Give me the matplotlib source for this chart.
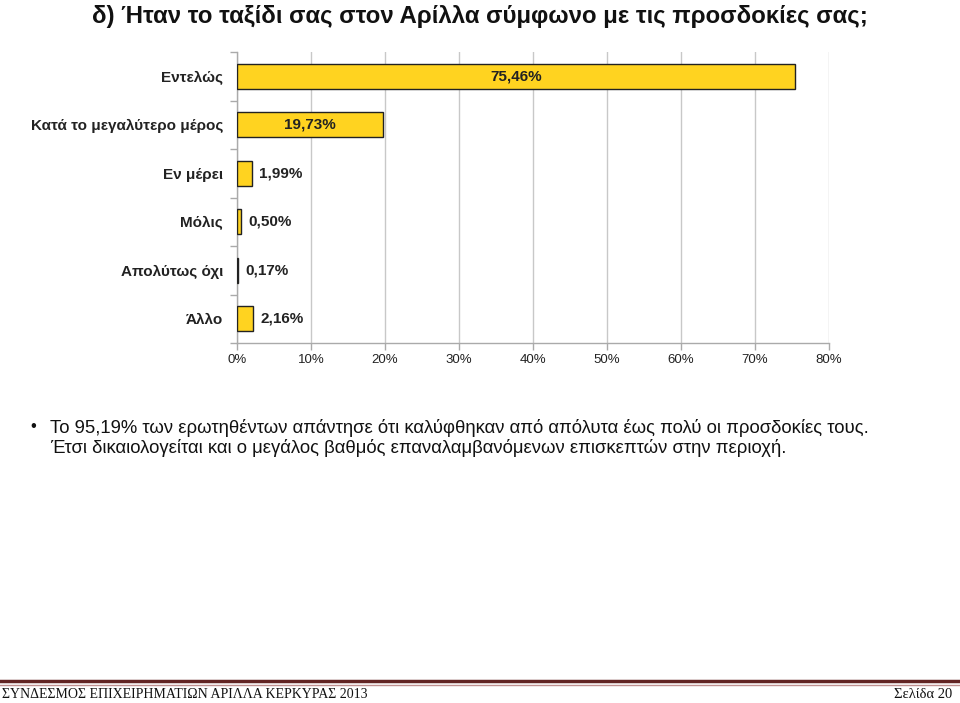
import numpy as np
import matplotlib
matplotlib.use('Agg')
from matplotlib import pyplot as plt
from matplotlib.lines import Line2D

categories = ["Εντελώς", "Κατά το μεγαλύτερο μέρος", "Εν μέρει", "Μόλις",
              "Απολύτως όχι", "Άλλο"]
values = [75.46, 19.73, 1.99, 0.50, 0.17, 2.16]
inside_label = [True, True, False, False, False, False]
xticks = [0, 10, 20, 30, 40, 50, 60, 70, 80]

title = "δ) Ήταν το ταξίδι σας στον Αρίλλα σύμφωνο με τις προσδοκίες σας;"
bullet_lines = [
    "Το 95,19% των ερωτηθέντων απάντησε ότι καλύφθηκαν από απόλυτα έως πολύ οι προσδοκίες τους.",
    "Έτσι δικαιολογείται και ο μεγάλος βαθμός επαναλαμβανόμενων επισκεπτών στην περιοχή.",
]
footer_left = "ΣΥΝΔΕΣΜΟΣ ΕΠΙΧΕΙΡΗΜΑΤΙΩΝ ΑΡΙΛΛΑ ΚΕΡΚΥΡΑΣ 2013"
footer_right = "Σελίδα 20"

plt.rcParams['font.family'] = ['Liberation Sans', 'DejaVu Sans']

W, H = 960, 703
fig = plt.figure(figsize=(W / 100, H / 100), dpi=100)

left, right, top, bottom = 237, 829, 52, 343
ax = fig.add_axes([left / W, 1 - bottom / H, (right - left) / W, (bottom - top) / H])

y = np.arange(len(categories))
ax.barh(y, values, height=0.52, color='#FFD320', edgecolor='#222222',
        linewidth=1.0, zorder=3)
ax.set_ylim(len(categories) - 0.5, -0.5)
ax.set_xlim(0, 80)

for yi, v, inside in zip(y, values, inside_label):
    lab = f"{v:.2f}%".replace('.', ',')
    if inside:
        ax.text(v / 2, yi, lab, ha='center', va='center', fontsize=11,
                fontweight='bold', color='#222222', zorder=4)
    else:
        ax.text(v + 1.0, yi, lab, ha='left', va='center', fontsize=11,
                fontweight='bold', color='#222222', zorder=4)

ax.set_xticks(xticks)
ax.set_xticklabels([f"{t}%" for t in xticks], fontsize=9.5, color='#222222')
ax.set_yticks(y)
ax.set_yticklabels(categories, fontsize=11, fontweight='bold', color='#222222')
ax.set_yticks(np.arange(-0.5, len(categories)), minor=True)
ax.tick_params(axis='y', which='major', length=0, pad=10)
ax.tick_params(axis='y', which='minor', length=5, color='#aaaaaa', width=1)
ax.tick_params(axis='x', length=5, color='#aaaaaa', width=1, pad=3)
ax.grid(axis='x', color='#c8c8c8', linewidth=1, zorder=0)
for s in ['top', 'right']:
    ax.spines[s].set_visible(False)
for s in ['left', 'bottom']:
    ax.spines[s].set_color('#aaaaaa')
    ax.spines[s].set_linewidth(1)

# title
fig.text(480 / W, 1 - 16 / H, title, ha='center', va='center', fontsize=17.3,
         fontweight='bold', family=['Liberation Sans Narrow', 'Liberation Sans', 'DejaVu Sans'],
         color='#111111')

# bullet text
fig.text(33 / W, 1 - 427 / H, "•", ha='center', va='center', fontsize=12, color='#111111')
for i, line in enumerate(bullet_lines):
    fig.text(50 / W, 1 - (428 + 20 * i) / H, line, ha='left', va='center',
             fontsize=13.3, color='#111111')

# footer
fig.add_artist(Line2D([0, 1], [1 - 681 / H, 1 - 681 / H], color='#622423',
                      linewidth=2.5, transform=fig.transFigure))
fig.add_artist(Line2D([0, 1], [1 - 684.5 / H, 1 - 684.5 / H], color='#c09090',
                      linewidth=1, transform=fig.transFigure))
fig.text(2 / W, 1 - 695 / H, footer_left, ha='left', va='center', fontsize=10,
         family=['Liberation Serif', 'DejaVu Serif'], color='#111111')
fig.text(952 / W, 1 - 695 / H, footer_right, ha='right', va='center', fontsize=10.5,
         family=['Liberation Serif', 'DejaVu Serif'], color='#111111')

fig.savefig('out.png', dpi=100)
